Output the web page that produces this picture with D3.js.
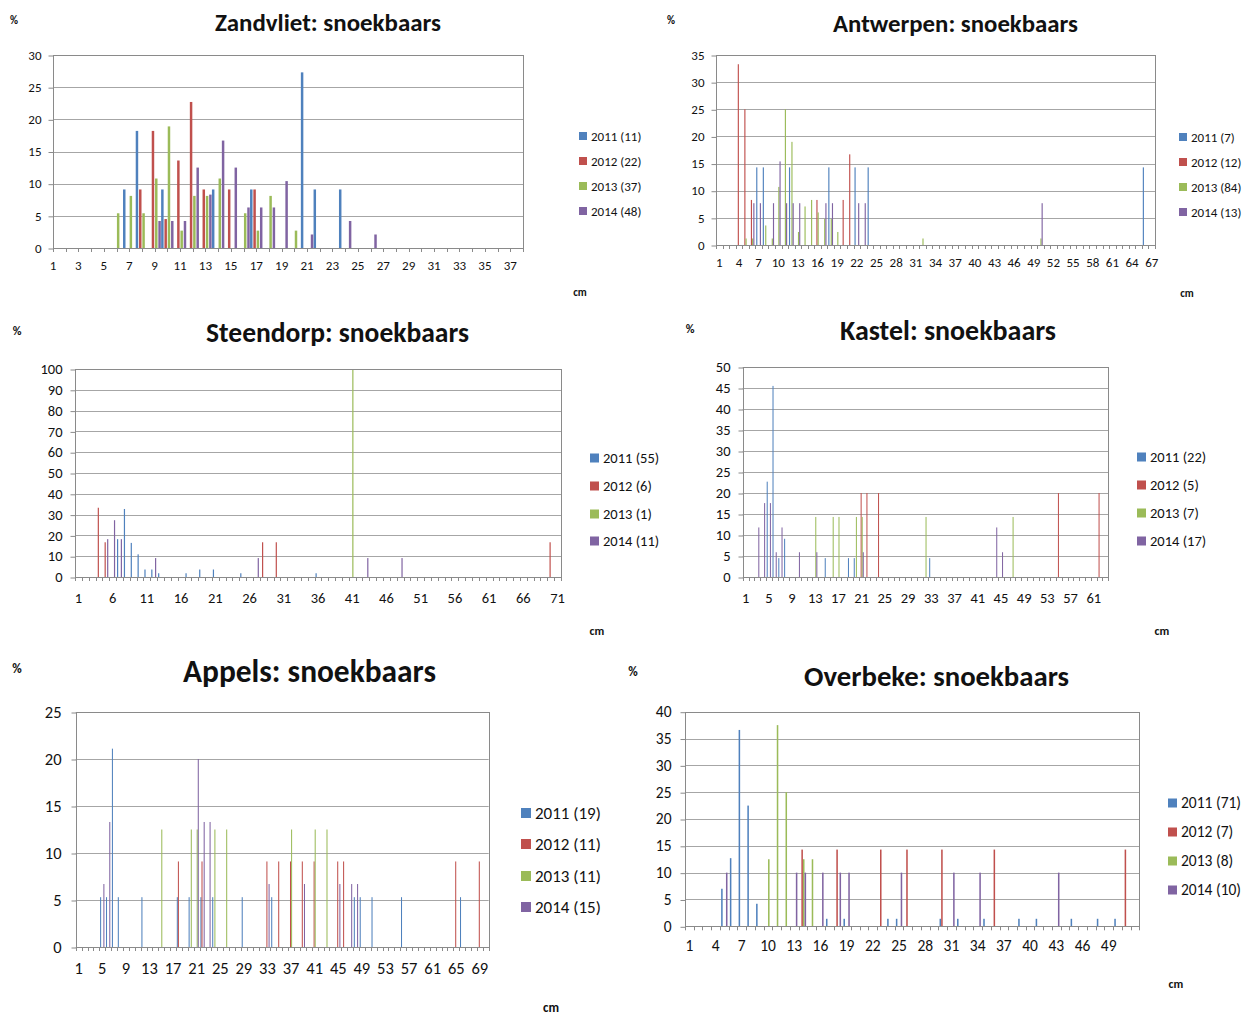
<!DOCTYPE html>
<html>
<head>
<meta charset="utf-8">
<script src="https://cdn.jsdelivr.net/npm/d3@7"></script>
<style>
  body { margin: 0; background: #fff; }
  svg { display: block; }
  text { font-family: Carlito, Calibri, Lato, sans-serif; fill: #111; }
</style>
</head>
<body>
<svg id="chart" width="1243" height="1014"></svg>
<script>
// Length-frequency distributions of pikeperch (snoekbaars) per site, % per cm class
const years = ["2011", "2012", "2013", "2014"];
const yearColors = ["#4F81BD", "#C0504D", "#9BBB59", "#8064A2"];

// ---- Zandvliet ----
const zandvliet2011 = [[7, 9.1], [8, 18.2], [10, 9.1], [14, 9.1], [17, 9.1], [21, 27.3], [22, 9.1], [24, 9.1]];
const zandvliet2012 = [[8, 9.1], [9, 18.2], [10, 4.5], [11, 13.6], [12, 22.7], [13, 9.1], [15, 9.1], [17, 9.1]];
const zandvliet2013 = [[6, 5.4], [7, 8.1], [8, 5.4], [9, 10.8], [10, 18.9], [11, 2.7], [12, 8.1], [13, 8.1], [14, 10.8], [16, 5.4], [17, 2.7], [18, 8.1], [20, 2.7]];
const zandvliet2014 = [[9, 4.2], [10, 4.2], [11, 4.2], [12, 12.5], [13, 8.3], [14, 16.7], [15, 12.5], [16, 6.3], [17, 6.3], [18, 6.3], [19, 10.4], [21, 2.1], [24, 4.2], [26, 2.1]];
const zandvlietLegend = ["2011 (11)", "2012 (22)", "2013 (37)", "2014 (48)"];
const zandvlietXTicks = [1, 3, 5, 7, 9, 11, 13, 15, 17, 19, 21, 23, 25, 27, 29, 31, 33, 35, 37];
const zandvlietYTicks = [0, 5, 10, 15, 20, 25, 30];

// ---- Antwerpen ----
const antwerpen2011 = [[7, 14.3], [8, 14.3], [12, 14.3], [18, 14.3], [22, 14.3], [24, 14.3], [66, 14.3]];
const antwerpen2012 = [[4, 33.3], [5, 25], [6, 8.3], [16, 8.3], [20, 8.3], [21, 16.7]];
const antwerpen2013 = [[5, 1.2], [6, 1.2], [8, 3.6], [9, 1.2], [10, 10.7], [11, 25], [12, 19], [13, 2.4], [14, 7.1], [15, 8.3], [16, 6], [17, 4.8], [18, 4.8], [19, 2.4], [32, 1.2], [50, 1.2]];
const antwerpen2014 = [[6, 7.7], [7, 7.7], [9, 7.7], [10, 15.4], [11, 7.7], [12, 7.7], [13, 7.7], [17, 7.7], [18, 7.7], [22, 7.7], [23, 7.7], [50, 7.7]];
const antwerpenLegend = ["2011 (7)", "2012 (12)", "2013 (84)", "2014 (13)"];
const antwerpenXTicks = [1, 4, 7, 10, 13, 16, 19, 22, 25, 28, 31, 34, 37, 40, 43, 46, 49, 52, 55, 58, 61, 64, 67];
const antwerpenYTicks = [0, 5, 10, 15, 20, 25, 30, 35];

// ---- Steendorp ----
const steendorp2011 = [[7, 18.2], [8, 32.7], [9, 16.4], [10, 10.9], [11, 3.6], [12, 3.6], [13, 1.8], [17, 1.8], [19, 3.6], [21, 3.6], [25, 1.8], [36, 1.8]];
const steendorp2012 = [[4, 33.3], [5, 16.7], [28, 16.7], [30, 16.7], [70, 16.7]];
const steendorp2013 = [[41, 100]];
const steendorp2014 = [[5, 18.2], [6, 27.3], [7, 18.2], [12, 9.1], [27, 9.1], [43, 9.1], [48, 9.1]];
const steendorpLegend = ["2011 (55)", "2012 (6)", "2013 (1)", "2014 (11)"];
const steendorpXTicks = [1, 6, 11, 16, 21, 26, 31, 36, 41, 46, 51, 56, 61, 66, 71];
const steendorpYTicks = [0, 10, 20, 30, 40, 50, 60, 70, 80, 90, 100];

// ---- Kastel ----
const kastel2011 = [[5, 22.7], [6, 45.5], [7, 4.5], [8, 9.1], [15, 4.5], [19, 4.5], [20, 4.5], [33, 4.5]];
const kastel2012 = [[21, 20], [22, 20], [24, 20], [55, 20], [62, 20]];
const kastel2013 = [[13, 14.3], [16, 14.3], [17, 14.3], [20, 14.3], [21, 14.3], [32, 14.3], [47, 14.3]];
const kastel2014 = [[3, 11.8], [4, 17.6], [5, 17.6], [6, 5.9], [7, 11.8], [10, 5.9], [13, 5.9], [21, 5.9], [44, 11.8], [45, 5.9]];
const kastelLegend = ["2011 (22)", "2012 (5)", "2013 (7)", "2014 (17)"];
const kastelXTicks = [1, 5, 9, 13, 17, 21, 25, 29, 33, 37, 41, 45, 49, 53, 57, 61];
const kastelYTicks = [0, 5, 10, 15, 20, 25, 30, 35, 40, 45, 50];

// ---- Appels ----
const appels2011 = [[5, 5.3], [6, 5.3], [7, 21.1], [8, 5.3], [12, 5.3], [18, 5.3], [20, 5.3], [22, 5.3], [24, 5.3], [29, 5.3], [34, 5.3], [48, 5.3], [49, 5.3], [51, 5.3], [56, 5.3], [66, 5.3]];
const appels2012 = [[18, 9.1], [22, 9.1], [33, 9.1], [35, 9.1], [37, 9.1], [39, 9.1], [41, 9.1], [45, 9.1], [46, 9.1], [65, 9.1], [69, 9.1]];
const appels2013 = [[15, 12.5], [20, 12.5], [21, 12.5], [24, 12.5], [26, 12.5], [37, 12.5], [41, 12.5], [43, 12.5]];
const appels2014 = [[5, 6.7], [6, 13.3], [21, 20], [22, 13.3], [23, 13.3], [33, 6.7], [39, 6.7], [45, 6.7], [47, 6.7], [48, 6.7]];
const appelsLegend = ["2011 (19)", "2012 (11)", "2013 (11)", "2014 (15)"];
const appelsXTicks = [1, 5, 9, 13, 17, 21, 25, 29, 33, 37, 41, 45, 49, 53, 57, 61, 65, 69];
const appelsYTicks = [0, 5, 10, 15, 20, 25];

// ---- Overbeke ----
const overbeke2011 = [[5, 7.0], [6, 12.7], [7, 36.6], [8, 22.5], [9, 4.2], [17, 1.4], [19, 1.4], [24, 1.4], [25, 1.4], [30, 1.4], [32, 1.4], [35, 1.4], [39, 1.4], [41, 1.4], [45, 1.4], [48, 1.4], [50, 1.4]];
const overbeke2012 = [[14, 14.3], [18, 14.3], [23, 14.3], [26, 14.3], [30, 14.3], [36, 14.3], [51, 14.3]];
const overbeke2013 = [[10, 12.5], [11, 37.5], [12, 25], [14, 12.5], [15, 12.5]];
const overbeke2014 = [[5, 10], [13, 10], [14, 10], [16, 10], [18, 10], [19, 10], [25, 10], [31, 10], [34, 10], [43, 10]];
const overbekeLegend = ["2011 (71)", "2012 (7)", "2013 (8)", "2014 (10)"];
const overbekeXTicks = [1, 4, 7, 10, 13, 16, 19, 22, 25, 28, 31, 34, 37, 40, 43, 46, 49];
const overbekeYTicks = [0, 5, 10, 15, 20, 25, 30, 35, 40];

// Panel layout
const panels = [
  { title: "Zandvliet: snoekbaars", series: [zandvliet2011, zandvliet2012, zandvliet2013, zandvliet2014],
    legend: zandvlietLegend, xTicks: zandvlietXTicks, yTicks: zandvlietYTicks, nCat: 38, onTicks: true, gap: 0.1,
    left: 53, right: 523, top: 55, bottom: 248,
    titleX: 328, titleY: 31, titleW: 226, pct: [14, 24, 11],
    axisFont: 13, xLabelDy: 22, yLabelDx: 12,
    legendX: 579, legendY: [136, 161, 186, 211], legendFont: 13, cm: [580, 296, 11] },
  { title: "Antwerpen: snoekbaars", series: [antwerpen2011, antwerpen2012, antwerpen2013, antwerpen2014],
    legend: antwerpenLegend, xTicks: antwerpenXTicks, yTicks: antwerpenYTicks, nCat: 67, onTicks: false, gap: 1.5,
    left: 716, right: 1155, top: 55, bottom: 245,
    titleX: 955.5, titleY: 32, titleW: 245, pct: [671, 24, 11],
    axisFont: 13, xLabelDy: 22, yLabelDx: 12,
    legendX: 1179, legendY: [137, 162, 187, 212], legendFont: 13, cm: [1187, 297, 11] },
  { title: "Steendorp: snoekbaars", series: [steendorp2011, steendorp2012, steendorp2013, steendorp2014],
    legend: steendorpLegend, xTicks: steendorpXTicks, yTicks: steendorpYTicks, nCat: 71, onTicks: false, gap: 1.5,
    left: 75, right: 561, top: 369, bottom: 577,
    titleX: 337.5, titleY: 342, titleW: 263, pct: [17, 335, 12],
    axisFont: 14.5, xLabelDy: 26, yLabelDx: 13,
    legendX: 590, legendY: [458, 486, 514, 541], legendFont: 14.5, cm: [597, 635, 12] },
  { title: "Kastel: snoekbaars", series: [kastel2011, kastel2012, kastel2013, kastel2014],
    legend: kastelLegend, xTicks: kastelXTicks, yTicks: kastelYTicks, nCat: 63, onTicks: false, gap: 1.5,
    left: 742.7, right: 1108.3, top: 367, bottom: 577,
    titleX: 948, titleY: 340, titleW: 216, pct: [690, 333, 12],
    axisFont: 14.5, xLabelDy: 26, yLabelDx: 13,
    legendX: 1137, legendY: [457, 485, 513, 541], legendFont: 14.5, cm: [1162, 635, 12] },
  { title: "Appels: snoekbaars", series: [appels2011, appels2012, appels2013, appels2014],
    legend: appelsLegend, xTicks: appelsXTicks, yTicks: appelsYTicks, nCat: 70, onTicks: false, gap: 1.5,
    left: 75.7, right: 488.7, top: 712, bottom: 947,
    titleX: 309.5, titleY: 682, titleW: 253, pct: [17, 673, 13],
    axisFont: 16.5, xLabelDy: 27, yLabelDx: 15,
    legendX: 521, legendY: [813, 844, 876, 907], legendFont: 17, cm: [551, 1012, 13] },
  { title: "Overbeke: snoekbaars", series: [overbeke2011, overbeke2012, overbeke2013, overbeke2014],
    legend: overbekeLegend, xTicks: overbekeXTicks, yTicks: overbekeYTicks, nCat: 52, onTicks: false, gap: 1.5,
    left: 685, right: 1139.3, top: 711.7, bottom: 926.3,
    titleX: 936.5, titleY: 686, titleW: 265, pct: [633, 676, 13],
    axisFont: 15.5, xLabelDy: 25, yLabelDx: 14,
    legendX: 1168, legendY: [803, 832, 861, 890], legendFont: 15.5, cm: [1176, 988, 12] }
];

const svg = d3.select("#chart");
const gridColor = "#a6a6a6";
const frameColor = "#8a8a8a";

function drawPanel(p) {
  const g = svg.append("g");
  const cats = d3.range(1, p.nCat + 1);

  // category positions: either centred on tick marks or centred between them
  let xCenter, step;
  if (p.onTicks) {
    const xs = d3.scalePoint().domain(cats).range([p.left, p.right]);
    step = xs.step();
    xCenter = c => xs(c);
  } else {
    const xs = d3.scaleBand().domain(cats).range([p.left, p.right]).paddingInner(0).paddingOuter(0);
    step = xs.step();
    xCenter = c => xs(c) + xs.bandwidth() / 2;
  }
  const clusterW = step * 4 / (4 + p.gap);
  const xInner = d3.scaleBand().domain(years).range([-clusterW / 2, clusterW / 2])
    .paddingInner(p.onTicks ? 0.25 : 0.05);
  const barW = Math.max(1, xInner.bandwidth());

  const y = d3.scaleLinear().domain([0, d3.max(p.yTicks)]).range([p.bottom, p.top]);

  // gridlines
  g.append("g").selectAll("line").data(p.yTicks).join("line")
    .attr("x1", p.left).attr("x2", p.right)
    .attr("y1", d => Math.round(y(d)) + 0.5).attr("y2", d => Math.round(y(d)) + 0.5)
    .attr("stroke", gridColor).attr("stroke-width", 1);

  // y axis with ticks and labels
  const yAxis = d3.axisLeft(y).tickValues(p.yTicks).tickSize(5).tickPadding(p.yLabelDx - 5).tickFormat(d3.format("d"));
  const ya = g.append("g").attr("transform", `translate(${Math.round(p.left) + 0.5},0)`).call(yAxis);
  ya.select(".domain").remove();
  ya.selectAll(".tick line").attr("stroke", frameColor).attr("transform", "translate(0,0.5)");
  ya.selectAll(".tick text").style("font-size", p.axisFont + "px").attr("fill", "#111")
    .style("font-family", "Carlito, Calibri, Lato, sans-serif");

  // x tick marks: at category centres or at boundaries between categories
  const tickPos = p.onTicks ? cats.map(c => xCenter(c))
    : d3.range(0, p.nCat + 1).map(i => p.left + i * step);
  g.append("g").selectAll("line").data(tickPos).join("line")
    .attr("x1", d => Math.round(d) + 0.5).attr("x2", d => Math.round(d) + 0.5)
    .attr("y1", p.bottom).attr("y2", p.bottom + 4)
    .attr("stroke", frameColor).attr("stroke-width", 1);

  // x labels
  g.append("g").selectAll("text").data(p.xTicks).join("text")
    .attr("x", d => xCenter(d)).attr("y", p.bottom + p.xLabelDy)
    .attr("text-anchor", "middle").style("font-size", p.axisFont + "px")
    .text(d => d);

  // bars
  p.series.forEach((s, i) => {
    g.append("g").selectAll("rect").data(s).join("rect")
      .attr("x", d => xCenter(d[0]) + xInner(years[i]) + (xInner.bandwidth() - barW) / 2)
      .attr("width", barW)
      .attr("y", d => y(d[1]))
      .attr("height", d => y(0) - y(d[1]))
      .attr("fill", yearColors[i]);
  });

  // plot frame
  g.append("rect")
    .attr("x", Math.round(p.left) + 0.5).attr("y", Math.round(p.top) + 0.5)
    .attr("width", Math.round(p.right) - Math.round(p.left)).attr("height", Math.round(p.bottom) - Math.round(p.top))
    .attr("fill", "none").attr("stroke", frameColor).attr("stroke-width", 1);

  // title, fitted to its width
  const t = g.append("text").attr("x", p.titleX).attr("y", p.titleY)
    .attr("text-anchor", "middle").style("font-weight", "bold").style("font-size", "20px")
    .attr("fill", "#111").text(p.title);
  const w = t.node().getComputedTextLength();
  t.style("font-size", (20 * p.titleW / w).toFixed(2) + "px");

  // unit labels
  g.append("text").attr("x", p.pct[0]).attr("y", p.pct[1]).attr("text-anchor", "middle")
    .style("font-weight", "bold").style("font-size", p.pct[2] + "px").text("%");
  g.append("text").attr("x", p.cm[0]).attr("y", p.cm[1]).attr("text-anchor", "middle")
    .style("font-weight", "bold").style("font-size", p.cm[2] + "px").text("cm");

  // legend
  const sq = Math.round(p.legendFont * 0.6);
  const lg = g.append("g");
  p.legend.forEach((lab, i) => {
    const yy = p.legendY[i];
    lg.append("rect").attr("x", p.legendX).attr("y", yy - sq / 2).attr("width", sq).attr("height", sq)
      .attr("fill", yearColors[i]);
    lg.append("text").attr("x", p.legendX + sq + 4).attr("y", yy).attr("dy", "0.35em")
      .style("font-size", p.legendFont + "px").text(lab);
  });
}

panels.forEach(drawPanel);
</script>
</body>
</html>
